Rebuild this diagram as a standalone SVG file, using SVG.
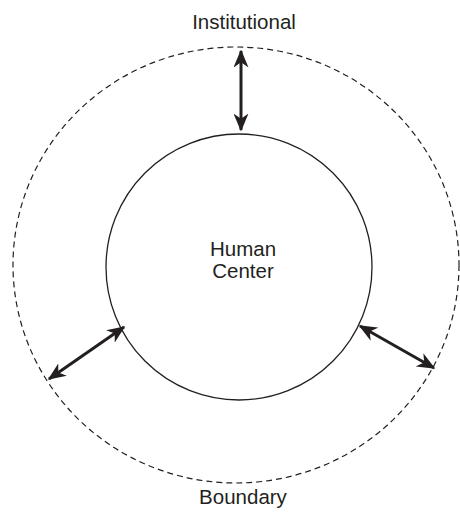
<svg xmlns="http://www.w3.org/2000/svg" width="460" height="517" viewBox="0 0 460 517">
<style>
.lbl{font-family:"Liberation Sans",Arial,sans-serif;font-size:20.5px;fill:#231f20;text-anchor:middle}
.arr{stroke:#231f20;stroke-width:3;fill:none;marker-start:url(#ah);marker-end:url(#ah)}
</style>
<defs>
<marker id="ah" viewBox="0 0 12 10" refX="11" refY="5" markerWidth="6" markerHeight="5" orient="auto-start-reverse" markerUnits="strokeWidth">
<path d="M0,0 L12,5 L0,10 L3.5,5 Z" fill="#231f20"/>
</marker>
</defs>
<rect width="460" height="517" fill="#fff"/>
<g id="boundary">
<ellipse cx="236" cy="265" rx="223" ry="218" fill="none" stroke="#231f20" stroke-width="1.2" stroke-dasharray="6,4"/>
<text class="lbl" x="244" y="29">Institutional</text>
<text class="lbl" x="243" y="504">Boundary</text>
</g>
<g id="center">
<circle cx="239" cy="267" r="133" fill="none" stroke="#231f20" stroke-width="1.3"/>
<text class="lbl" x="243" y="256">Human</text>
<text class="lbl" x="243" y="278">Center</text>
</g>
<g id="connectors">
<line class="arr" x1="241" y1="51" x2="241" y2="130"/>
<line class="arr" x1="49" y1="379" x2="124" y2="327"/>
<line class="arr" x1="360" y1="326" x2="434" y2="368"/>
</g>
</svg>
